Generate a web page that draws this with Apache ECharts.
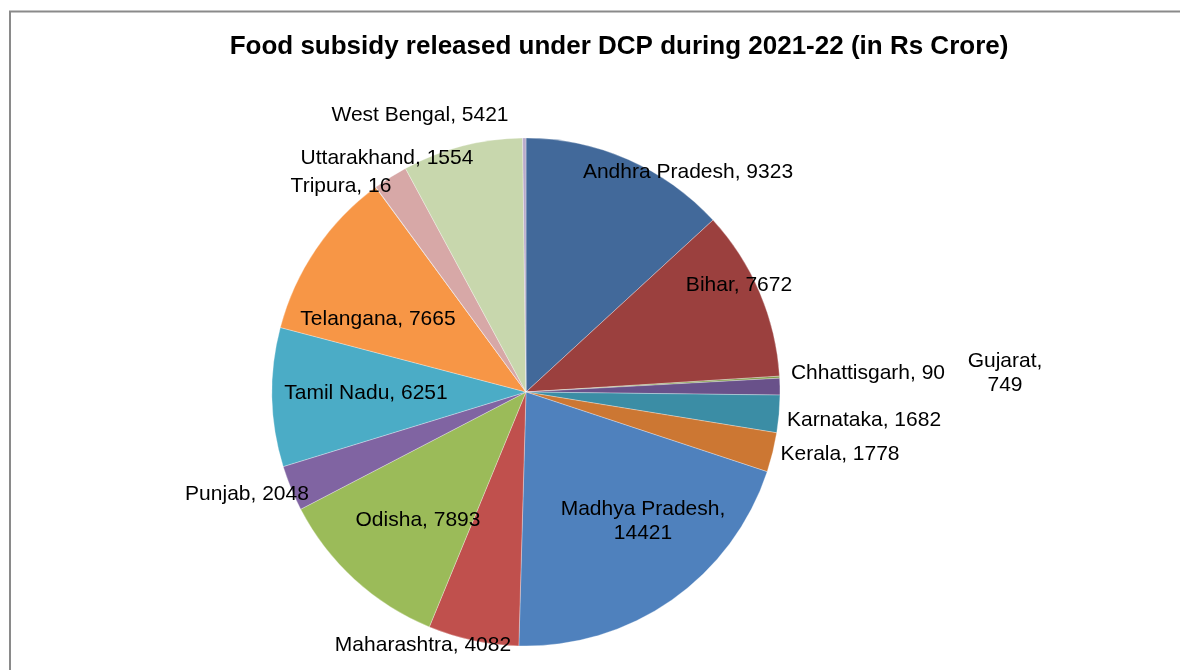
<!DOCTYPE html>
<html>
<head>
<meta charset="utf-8">
<title>Food subsidy released under DCP during 2021-22</title>
<script src="https://cdn.jsdelivr.net/npm/echarts@6/dist/echarts.min.js"></script>
<style>
  html, body { margin: 0; padding: 0; background: #fff; }
  #chart { width: 1180px; height: 670px; }
</style>
</head>
<body>
<div id="chart"></div>
<script>
// states in clockwise order from 12 o'clock, last slice has no label in the source
const states = ['Andhra Pradesh', 'Bihar', 'Chhattisgarh', 'Gujarat', 'Karnataka', 'Kerala',
  'Madhya Pradesh', 'Maharashtra', 'Odisha', 'Punjab', 'Tamil Nadu', 'Telangana',
  'Tripura', 'Uttarakhand', 'West Bengal', '']
const subsidy = [9323, 7672, 90, 749, 1682, 1778, 14421, 4082, 7893, 2048, 6251, 7665, 16, 1554, 5421, 150]
const sliceColors = ['#42699a', '#9b403e', '#7e9a48', '#69518a', '#3b8da5', '#cc7733',
  '#4f81bd', '#c0504d', '#9bbb59', '#8064a2', '#4bacc6', '#f79646',
  '#a7b9da', '#d7a8a7', '#c8d7ad', '#b9abcb']
// label centres (px) where the source chart put its data labels
const labelPos = [[688, 172], [739, 285], [868, 373], [1005, 373], [864, 420], [840, 454],
  [643, 521], [423, 645], [418, 520], [247, 494], [366, 393], [378, 319],
  [341, 186], [387, 158], [420, 115], [0, 0]]
const wrapped = ['Madhya Pradesh', 'Gujarat']

const chart = echarts.init(document.getElementById('chart'))

const option = {
  animation: false,
  title: {
    text: 'Food subsidy released under DCP during 2021-22 (in Rs Crore)',
    left: 614,
    top: 29,
    textAlign: 'center',
    textStyle: {
      fontFamily: 'Liberation Sans, Arial, sans-serif',
      fontSize: 26,
      fontWeight: 'bold',
      color: '#000'
    }
  },
  graphic: [{
    type: 'rect',
    shape: { x: 10, y: 11.5, width: 1400, height: 900 },
    style: { fill: 'none', stroke: '#8a8a8a', lineWidth: 2 },
    silent: true
  }],
  series: [{
    type: 'pie',
    center: [526, 392],
    radius: 254,
    startAngle: 90,
    clockwise: true,
    avoidLabelOverlap: false,
    itemStyle: { borderColor: 'rgba(255,255,255,0.6)', borderWidth: 0.5 },
    label: {
      show: true,
      position: 'inside',
      color: '#000',
      fontFamily: 'Liberation Sans, Arial, sans-serif',
      fontSize: 21,
      lineHeight: 24,
      align: 'center',
      formatter: p => wrapped.includes(p.name) ? p.name + ',\n' + p.value : p.name + ', ' + p.value
    },
    labelLine: { show: false },
    labelLayout: p => ({
      x: labelPos[p.dataIndex][0],
      y: labelPos[p.dataIndex][1],
      align: 'center',
      verticalAlign: 'middle'
    }),
    emphasis: { disabled: true },
    data: states.map((s, i) => ({
      name: s,
      value: subsidy[i],
      itemStyle: { color: sliceColors[i] },
      label: { show: s !== '' }
    }))
  }]
}

chart.setOption(option)
window.addEventListener('resize', chart.resize)
</script>
</body>
</html>
